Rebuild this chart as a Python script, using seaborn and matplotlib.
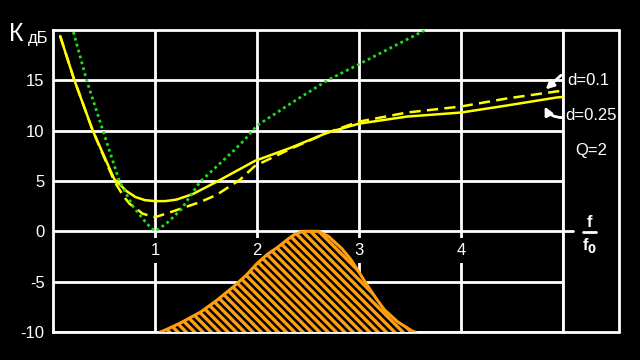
import seaborn as sns
import matplotlib.pyplot as plt

# асимптоты (зелёная точечная линия)
green_x = [0.20, 0.33, 0.49, 0.65, 0.79, 0.92, 1.00, 1.11, 1.25, 1.44, 1.77, 1.87, 2.00, 2.33, 2.69, 3.00, 3.65]
green_y = [19.8, 15.0, 10.0, 5.0, 2.4, 0.76, 0.0, 0.76, 2.1, 4.9, 8.0, 9.0, 10.5, 12.7, 15.0, 16.6, 20.0]

# d=0.25 (сплошная)
solid_x = [0.07, 0.21, 0.39, 0.46, 0.60, 0.66, 0.72, 0.81, 0.90, 1.00, 1.10, 1.21, 1.37, 1.60, 1.98,
           2.33, 2.69, 3.00, 3.47, 4.00, 4.45, 4.94, 5.00]
solid_y = [19.4, 15.0, 10.0, 8.4, 5.2, 4.6, 4.0, 3.4, 3.1, 3.0, 3.0, 3.15, 3.7, 4.9, 7.0,
           8.3, 9.8, 10.7, 11.4, 11.8, 12.5, 13.3, 13.35]

# d=0.1 (пунктир)
dash_x = [0.07, 0.21, 0.39, 0.60, 0.69, 0.75, 0.88, 1.00, 1.21, 1.44, 1.60, 1.83, 1.98, 2.33, 2.69, 3.00, 3.47, 4.00, 4.45, 4.94, 5.00]
dash_y = [19.4, 15.0, 10.0, 5.0, 3.5, 2.75, 1.75, 1.4, 2.1, 2.9, 3.6, 5.1, 6.5, 8.2, 9.8, 10.9, 11.8, 12.4, 13.2, 13.9, 13.95]

# спектр (оранжевая заштрихованная область)
spec_x = [1.05, 1.08, 1.25, 1.45, 1.60, 1.77, 1.90, 2.00, 2.10, 2.20, 2.30, 2.37, 2.45, 2.60,
          2.70, 2.83, 2.92, 2.99, 3.09, 3.17, 3.25, 3.38, 3.52, 3.55]
spec_y = [-10.0, -9.9, -9.1, -8.0, -6.9, -5.5, -4.3, -3.2, -2.3, -1.6, -0.8, -0.3, 0.0, 0.0,
          -0.5, -1.7, -2.8, -3.9, -5.5, -6.7, -7.8, -9.0, -9.9, -10.0]

x_ticks = [1, 2, 3, 4]
x_tick_labels = ['1', '2', '3', '4']
y_ticks = [-10, -5, 0, 5, 10, 15]
y_tick_labels = ['-10', '-5', '0', '5', '10', '15']

sns.set_style('dark', rc={'axes.facecolor': 'black', 'figure.facecolor': 'black',
                          'grid.color': 'white', 'axes.edgecolor': 'white'})
plt.rcParams['font.family'] = ['Liberation Sans', 'DejaVu Sans']
plt.rcParams['hatch.linewidth'] = 1.8

fig = plt.figure(figsize=(6.4, 3.6), dpi=100)
ax = fig.add_axes([53 / 640, 28 / 360, 510 / 640, 302 / 360])

YELLOW = '#FFFF00'
GREEN = '#22DD22'
ORANGE = '#FF9F10'

# спектр
ax.fill_between(spec_x, spec_y, -10, facecolor=ORANGE, edgecolor='black',
                hatch='\\\\\\\\', linewidth=0, zorder=4)
sns.lineplot(x=spec_x, y=spec_y, ax=ax, color=ORANGE, linewidth=2.2, zorder=5)

# кривые
sns.lineplot(x=solid_x, y=solid_y, ax=ax, color=YELLOW, linewidth=1.8, zorder=6)
sns.lineplot(x=dash_x, y=dash_y, ax=ax, color=YELLOW, linewidth=1.8,
             linestyle=(0, (4.5, 2.5)), zorder=6)
sns.lineplot(x=green_x, y=green_y, ax=ax, color=GREEN, linewidth=2.0,
             linestyle=(0, (1, 1.2)), zorder=7)

ax.set_xlim(0, 5)
ax.set_ylim(-10, 20)
ax.set_xticks([1, 2, 3, 4, 5])
ax.set_xticklabels([])
ax.tick_params(axis='x', length=0)
ax.set_yticks(y_ticks, labels=y_tick_labels)
ax.tick_params(axis='y', colors='white', length=4, width=2, labelsize=12, pad=2)
ax.grid(True, color='white', linewidth=2)
ax.set_axisbelow(True)
for sp in ax.spines.values():
    sp.set_color('white')
    sp.set_linewidth(2)

# внешняя рамка справа
xr = 5.55
ax.plot([5, xr], [20, 20], color='white', lw=2, clip_on=False)
ax.plot([5, xr], [-10, -10], color='white', lw=2, clip_on=False)
ax.plot([xr, xr], [-10, 20], color='white', lw=2, clip_on=False)
ax.plot([5, 5.1], [0, 0], color='white', lw=2, clip_on=False)

# подписи оси x внутри поля
for xv, lab in zip(x_ticks, x_tick_labels):
    ax.text(xv, -1.9, lab, color='white', fontsize=12, ha='center', va='center',
            zorder=3, bbox=dict(facecolor='black', edgecolor='none', pad=3.5))

# подпись оси y
fig.text(9 / 640, 1 - 34 / 360, 'К', color='white', fontsize=18, ha='left', va='center')
fig.text(28 / 640, 1 - 39 / 360, 'дБ', color='white', fontsize=12, ha='left', va='center')

# f/f0
ax.text(5.26, 0.9, 'f', color='white', fontsize=12, fontweight='bold', ha='center', va='center')
ax.plot([5.2, 5.32], [-0.1, -0.1], color='white', lw=2, clip_on=False)
ax.text(5.26, -1.4, r'f$_\mathbf{0}$', color='white', fontsize=12, fontweight='bold',
        ha='center', va='center')

# подписи кривых
ax.text(5.04, 15.0, 'd=0.1', color='white', fontsize=12, ha='left', va='center')
ax.text(5.02, 11.5, 'd=0.25', color='white', fontsize=12, ha='left', va='center')
ax.text(5.28, 8.0, 'Q=2', color='white', fontsize=12, ha='center', va='center')

ax.annotate('', xy=(4.83, 14.1), xytext=(4.98, 15.5), annotation_clip=False,
            arrowprops=dict(arrowstyle='-|>', color='white', lw=2, mutation_scale=12,
                            shrinkA=0, shrinkB=0))
ax.annotate('', xy=(4.82, 12.4), xytext=(4.99, 11.3), annotation_clip=False,
            arrowprops=dict(arrowstyle='-|>', color='white', lw=2, mutation_scale=12,
                            shrinkA=0, shrinkB=0, connectionstyle='arc3,rad=-0.3'))

fig.savefig('out.png', dpi=100, facecolor='black')
